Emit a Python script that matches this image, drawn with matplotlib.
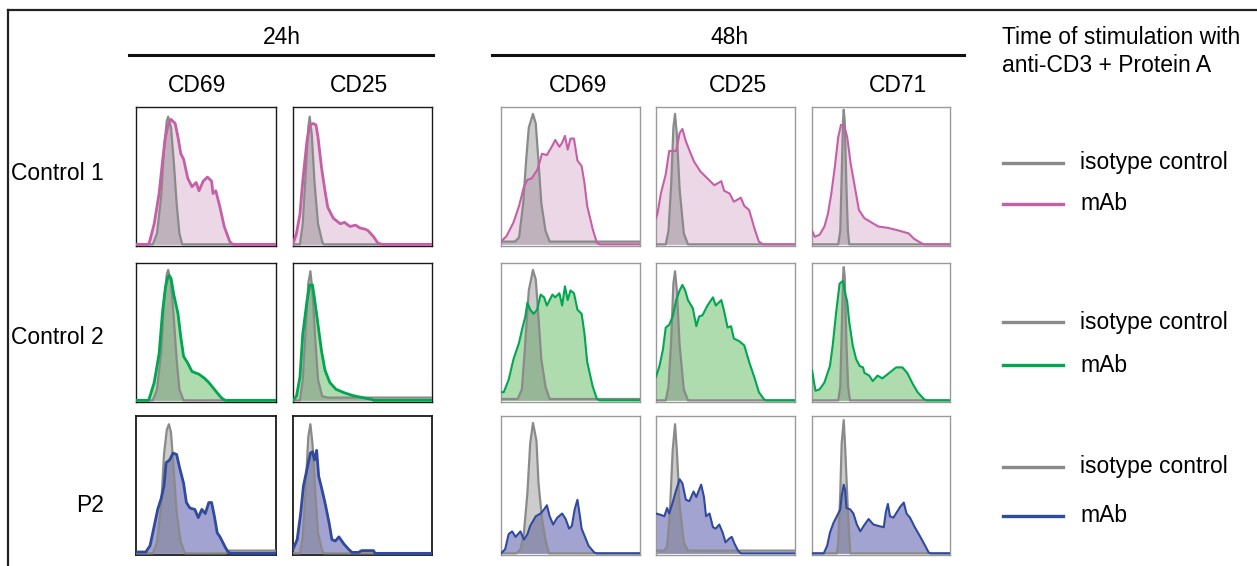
import matplotlib
matplotlib.use("Agg")
import matplotlib.pyplot as plt
from matplotlib.lines import Line2D

plt.rcParams['font.family'] = ['Liberation Sans', 'DejaVu Sans']

# points (x, y), x and y as fraction of the panel box
# --- Control 1 ---
iso_c1_24_cd69 = [(0, 0), (0.12, 0), (0.15, 0.08), (0.18, 0.35), (0.2, 0.7), (0.22, 0.9), (0.23, 0.93), (0.25, 0.85),
                  (0.27, 0.6), (0.29, 0.3), (0.31, 0.08), (0.33, 0), (1, 0)]
mab_c1_24_cd69 = [(0, 0), (0.09, 0), (0.1, 0.03), (0.13, 0.15), (0.165, 0.37), (0.19, 0.61), (0.21, 0.78), (0.23, 0.87),
                  (0.25, 0.91), (0.28, 0.88), (0.3, 0.78), (0.32, 0.66), (0.34, 0.62), (0.37, 0.48), (0.4, 0.42),
                  (0.43, 0.45), (0.45, 0.39), (0.48, 0.46), (0.51, 0.49), (0.54, 0.46), (0.55, 0.37), (0.57, 0.39),
                  (0.6, 0.27), (0.63, 0.13), (0.67, 0.02), (0.69, 0), (1, 0)]
iso_c1_24_cd25 = [(0, 0), (0.05, 0), (0.07, 0.15), (0.09, 0.5), (0.11, 0.85), (0.12, 0.93), (0.135, 0.8), (0.155, 0.45),
                  (0.18, 0.15), (0.21, 0.02), (0.22, 0), (1, 0)]
mab_c1_24_cd25 = [(0, 0), (0.025, 0.08), (0.05, 0.22), (0.07, 0.46), (0.1, 0.75), (0.12, 0.87), (0.145, 0.88),
                  (0.165, 0.87), (0.18, 0.78), (0.205, 0.56), (0.23, 0.39), (0.25, 0.27), (0.29, 0.19), (0.34, 0.15),
                  (0.37, 0.16), (0.41, 0.13), (0.45, 0.14), (0.48, 0.12), (0.52, 0.11), (0.54, 0.10), (0.58, 0.055),
                  (0.61, 0.01), (0.64, 0), (1, 0)]
iso_c1_48_cd69 = [(0, 0.02), (0.10, 0.02), (0.13, 0.05), (0.16, 0.3), (0.18, 0.6), (0.2, 0.85), (0.23, 0.95),
                  (0.25, 0.88), (0.27, 0.6), (0.29, 0.3), (0.32, 0.1), (0.35, 0.02), (1, 0.02)]
mab_c1_48_cd69 = [(0, 0.02), (0.04, 0.06), (0.09, 0.16), (0.13, 0.28), (0.165, 0.42), (0.19, 0.47), (0.22, 0.48),
                  (0.26, 0.54), (0.27, 0.57), (0.295, 0.66), (0.33, 0.65), (0.37, 0.72), (0.39, 0.76), (0.42, 0.71),
                  (0.44, 0.74), (0.46, 0.79), (0.48, 0.69), (0.5, 0.77), (0.525, 0.77), (0.55, 0.61), (0.58, 0.57),
                  (0.6, 0.45), (0.62, 0.28), (0.66, 0.11), (0.69, 0.01), (0.71, 0), (1, 0)]
iso_c1_48_cd25 = [(0, 0), (0.07, 0), (0.09, 0.1), (0.11, 0.45), (0.125, 0.85), (0.137, 0.95), (0.15, 0.8), (0.17, 0.4),
                  (0.2, 0.08), (0.23, 0), (1, 0)]
mab_c1_48_cd25 = [(0, 0.19), (0.01, 0.22), (0.035, 0.37), (0.07, 0.51), (0.095, 0.68), (0.145, 0.68), (0.17, 0.81),
                  (0.19, 0.84), (0.215, 0.75), (0.25, 0.66), (0.275, 0.6), (0.32, 0.53), (0.37, 0.48), (0.42, 0.43),
                  (0.47, 0.46), (0.49, 0.39), (0.53, 0.37), (0.56, 0.31), (0.61, 0.34), (0.635, 0.28), (0.67, 0.25),
                  (0.71, 0.11), (0.74, 0.02), (0.77, 0), (1, 0)]
iso_c1_48_cd71 = [(0, 0), (0.19, 0), (0.205, 0.1), (0.215, 0.5), (0.225, 0.9), (0.23, 0.98), (0.237, 0.9), (0.25, 0.4),
                  (0.26, 0.1), (0.27, 0), (1, 0)]
mab_c1_48_cd71 = [(0, 0.1), (0.02, 0.055), (0.055, 0.07), (0.09, 0.13), (0.115, 0.22), (0.14, 0.37), (0.165, 0.56),
                  (0.19, 0.78), (0.21, 0.87), (0.235, 0.86), (0.255, 0.78), (0.28, 0.59), (0.31, 0.42), (0.34, 0.25),
                  (0.38, 0.19), (0.43, 0.16), (0.48, 0.13), (0.55, 0.12), (0.63, 0.10), (0.7, 0.08), (0.74, 0.04),
                  (0.79, 0.01), (0.81, 0), (1, 0)]

# --- Control 2 ---
iso_c2_24_cd69 = [(0, 0), (0.12, 0), (0.15, 0.08), (0.18, 0.35), (0.2, 0.72), (0.22, 0.92), (0.23, 0.95), (0.25, 0.86),
                  (0.27, 0.6), (0.29, 0.3), (0.31, 0.08), (0.34, 0), (1, 0)]
mab_c2_24_cd69 = [(0, 0), (0.09, 0), (0.1, 0.03), (0.13, 0.13), (0.165, 0.34), (0.19, 0.65), (0.21, 0.82),
                  (0.225, 0.89), (0.235, 0.91), (0.25, 0.89), (0.27, 0.77), (0.3, 0.63), (0.32, 0.46), (0.34, 0.32),
                  (0.37, 0.27), (0.4, 0.21), (0.45, 0.19), (0.49, 0.16), (0.52, 0.13), (0.56, 0.08), (0.6, 0.03),
                  (0.62, 0.01), (0.64, 0), (1, 0)]
iso_c2_24_cd25 = [(0, 0), (0.05, 0), (0.07, 0.15), (0.09, 0.5), (0.11, 0.85), (0.125, 0.94), (0.14, 0.8), (0.16, 0.45),
                  (0.18, 0.15), (0.21, 0.03), (0.25, 0.02), (1, 0.02)]
mab_c2_24_cd25 = [(0, 0), (0.025, 0.03), (0.05, 0.17), (0.07, 0.48), (0.1, 0.72), (0.12, 0.84), (0.14, 0.84),
                  (0.155, 0.74), (0.18, 0.55), (0.205, 0.36), (0.23, 0.22), (0.265, 0.13), (0.31, 0.08), (0.37, 0.055),
                  (0.43, 0.035), (0.5, 0.02), (0.565, 0.007), (0.58, 0), (1, 0)]
iso_c2_48_cd69 = [(0, 0.01), (0.12, 0.01), (0.15, 0.08), (0.17, 0.35), (0.2, 0.8), (0.23, 0.95), (0.25, 0.88),
                  (0.27, 0.6), (0.29, 0.3), (0.32, 0.1), (0.35, 0.01), (1, 0.01)]
mab_c2_48_cd69 = [(0, 0.06), (0.02, 0.06), (0.055, 0.15), (0.09, 0.3), (0.13, 0.42), (0.15, 0.51), (0.175, 0.61),
                  (0.19, 0.71), (0.21, 0.66), (0.235, 0.63), (0.26, 0.66), (0.285, 0.77), (0.31, 0.75), (0.33, 0.69),
                  (0.37, 0.77), (0.39, 0.75), (0.42, 0.78), (0.44, 0.69), (0.46, 0.83), (0.48, 0.73), (0.5, 0.8),
                  (0.525, 0.78), (0.55, 0.66), (0.58, 0.63), (0.6, 0.49), (0.62, 0.28), (0.66, 0.1), (0.69, 0.01),
                  (0.71, 0), (1, 0)]
iso_c2_48_cd25 = [(0, 0), (0.07, 0), (0.09, 0.1), (0.11, 0.45), (0.125, 0.85), (0.137, 0.94), (0.15, 0.8), (0.17, 0.4),
                  (0.2, 0.08), (0.23, 0), (1, 0)]
mab_c2_48_cd25 = [(0, 0.17), (0.025, 0.25), (0.05, 0.37), (0.07, 0.53), (0.095, 0.55), (0.12, 0.61), (0.145, 0.73),
                  (0.17, 0.8), (0.19, 0.84), (0.21, 0.8), (0.23, 0.73), (0.265, 0.67), (0.29, 0.54), (0.31, 0.61),
                  (0.335, 0.62), (0.37, 0.69), (0.41, 0.75), (0.43, 0.69), (0.47, 0.73), (0.49, 0.65), (0.515, 0.53),
                  (0.54, 0.54), (0.56, 0.45), (0.6, 0.43), (0.635, 0.4), (0.67, 0.28), (0.71, 0.16), (0.74, 0.06),
                  (0.775, 0.01), (0.79, 0), (1, 0)]
iso_c2_48_cd71 = [(0, 0), (0.19, 0), (0.205, 0.1), (0.215, 0.5), (0.225, 0.9), (0.23, 0.97), (0.237, 0.9), (0.25, 0.4),
                  (0.262, 0.1), (0.275, 0), (1, 0)]
mab_c2_48_cd71 = [(0, 0.22), (0.025, 0.07), (0.055, 0.08), (0.09, 0.13), (0.13, 0.25), (0.15, 0.4), (0.175, 0.64),
                  (0.2, 0.85), (0.225, 0.87), (0.24, 0.78), (0.255, 0.72), (0.27, 0.57), (0.295, 0.4), (0.32, 0.3),
                  (0.345, 0.25), (0.37, 0.24), (0.38, 0.2), (0.415, 0.18), (0.44, 0.14), (0.475, 0.18), (0.51, 0.16),
                  (0.56, 0.2), (0.61, 0.24), (0.655, 0.24), (0.69, 0.2), (0.73, 0.12), (0.765, 0.06), (0.81, 0.01),
                  (0.83, 0), (1, 0)]

# --- P2 ---
iso_p2_24_cd69 = [(0, 0), (0.12, 0), (0.15, 0.08), (0.18, 0.35), (0.2, 0.72), (0.22, 0.9), (0.235, 0.94), (0.25, 0.88),
                  (0.27, 0.6), (0.29, 0.3), (0.32, 0.08), (0.35, 0), (0.64, 0), (0.66, 0.02), (1, 0.02)]
mab_p2_24_cd69 = [(0, 0.01), (0.07, 0.01), (0.1, 0.055), (0.12, 0.15), (0.155, 0.32), (0.18, 0.4), (0.2, 0.49),
                  (0.215, 0.66), (0.24, 0.68), (0.265, 0.73), (0.29, 0.72), (0.31, 0.63), (0.34, 0.51), (0.36, 0.37),
                  (0.385, 0.33), (0.42, 0.32), (0.445, 0.26), (0.47, 0.32), (0.495, 0.29), (0.52, 0.37), (0.54, 0.37),
                  (0.56, 0.27), (0.58, 0.15), (0.6, 0.12), (0.64, 0.04), (0.66, 0.007), (0.68, 0), (1, 0)]
iso_p2_24_cd25 = [(0, 0), (0.05, 0), (0.07, 0.12), (0.09, 0.45), (0.11, 0.85), (0.125, 0.94), (0.14, 0.8), (0.16, 0.45),
                  (0.18, 0.15), (0.21, 0.02), (0.22, 0), (1, 0)]
mab_p2_24_cd25 = [(0, 0.03), (0.03, 0.1), (0.055, 0.29), (0.075, 0.49), (0.1, 0.61), (0.125, 0.73), (0.14, 0.74),
                  (0.155, 0.68), (0.17, 0.75), (0.185, 0.56), (0.2, 0.5), (0.23, 0.37), (0.26, 0.22), (0.28, 0.1),
                  (0.305, 0.09), (0.33, 0.12), (0.365, 0.07), (0.4, 0.03), (0.425, 0.007), (0.47, 0.007),
                  (0.495, 0.02), (0.58, 0.02), (0.59, 0), (1, 0)]
iso_p2_48_cd69 = [(0, 0), (0.11, 0), (0.14, 0.03), (0.165, 0.15), (0.19, 0.44), (0.21, 0.8), (0.23, 0.95),
                  (0.255, 0.82), (0.27, 0.51), (0.295, 0.25), (0.32, 0.1), (0.345, 0), (1, 0)]
mab_p2_48_cd69 = [(0, 0), (0.03, 0.03), (0.055, 0.14), (0.08, 0.16), (0.105, 0.12), (0.14, 0.16), (0.165, 0.1),
                  (0.19, 0.14), (0.21, 0.2), (0.25, 0.27), (0.285, 0.29), (0.31, 0.32), (0.33, 0.35), (0.35, 0.27),
                  (0.375, 0.21), (0.405, 0.26), (0.44, 0.29), (0.465, 0.25), (0.49, 0.18), (0.51, 0.2), (0.53, 0.32),
                  (0.55, 0.39), (0.565, 0.29), (0.58, 0.18), (0.6, 0.13), (0.63, 0.055), (0.67, 0.007), (0.69, 0),
                  (1, 0)]
iso_p2_48_cd25 = [(0, 0.02), (0.06, 0.02), (0.08, 0.05), (0.1, 0.3), (0.12, 0.75), (0.137, 0.94), (0.15, 0.75),
                  (0.17, 0.35), (0.2, 0.08), (0.23, 0.02), (1, 0.02)]
mab_p2_48_cd25 = [(0, 0.29), (0.035, 0.28), (0.06, 0.27), (0.08, 0.33), (0.095, 0.29), (0.12, 0.37), (0.145, 0.46),
                  (0.17, 0.54), (0.19, 0.51), (0.215, 0.39), (0.24, 0.38), (0.27, 0.45), (0.29, 0.41), (0.305, 0.45),
                  (0.325, 0.5), (0.345, 0.41), (0.36, 0.27), (0.385, 0.29), (0.41, 0.19), (0.43, 0.18), (0.455, 0.21),
                  (0.48, 0.15), (0.5, 0.08), (0.53, 0.11), (0.545, 0.12), (0.565, 0.07), (0.59, 0.02), (0.61, 0),
                  (1, 0)]
iso_p2_48_cd71 = [(0, 0), (0.18, 0), (0.19, 0.08), (0.205, 0.44), (0.215, 0.8), (0.23, 0.97), (0.24, 0.78),
                  (0.26, 0.31), (0.277, 0), (1, 0)]
mab_p2_48_cd71 = [(0, 0), (0.085, 0), (0.11, 0.055), (0.13, 0.15), (0.155, 0.22), (0.18, 0.27), (0.205, 0.32),
                  (0.215, 0.42), (0.23, 0.5), (0.24, 0.46), (0.25, 0.33), (0.277, 0.32), (0.3, 0.29), (0.325, 0.21),
                  (0.35, 0.16), (0.375, 0.2), (0.41, 0.25), (0.445, 0.21), (0.48, 0.2), (0.52, 0.19), (0.535, 0.3),
                  (0.55, 0.36), (0.565, 0.27), (0.59, 0.26), (0.615, 0.3), (0.64, 0.34), (0.665, 0.37), (0.685, 0.29),
                  (0.71, 0.26), (0.745, 0.19), (0.785, 0.12), (0.82, 0.055), (0.845, 0.007), (0.86, 0), (1, 0)]

row_labels = ["Control 1", "Control 2", "P2"]
col_labels = ["CD69", "CD25", "CD69", "CD25", "CD71"]
time_labels = ["24h", "48h"]
legend_labels = ["isotype control", "mAb"]

panels = [
    [(iso_c1_24_cd69, mab_c1_24_cd69), (iso_c1_24_cd25, mab_c1_24_cd25), (iso_c1_48_cd69, mab_c1_48_cd69),
     (iso_c1_48_cd25, mab_c1_48_cd25), (iso_c1_48_cd71, mab_c1_48_cd71)],
    [(iso_c2_24_cd69, mab_c2_24_cd69), (iso_c2_24_cd25, mab_c2_24_cd25), (iso_c2_48_cd69, mab_c2_48_cd69),
     (iso_c2_48_cd25, mab_c2_48_cd25), (iso_c2_48_cd71, mab_c2_48_cd71)],
    [(iso_p2_24_cd69, mab_p2_24_cd69), (iso_p2_24_cd25, mab_p2_24_cd25), (iso_p2_48_cd69, mab_p2_48_cd69),
     (iso_p2_48_cd25, mab_p2_48_cd25), (iso_p2_48_cd71, mab_p2_48_cd71)],
]

line_cols = ["#c55fa6", "#00a650", "#2f4a9e"]
fill_cols = ["#ecd7e6", "#aedcae", "#a3a3d2"]
iso_line = "#8a8a8a"

W, H = 1257, 566
fig = plt.figure(figsize=(W / 100, H / 100), dpi=100)

def fx(x):
    return x / W

def fy(y):
    return 1 - y / H

# panel boxes in pixels
col_x = [(136, 276), (293, 432), (501, 640), (656, 795), (812, 950)]
row_y = [(107, 246), (263, 402), (416, 555)]

for r in range(3):
    for c in range(5):
        x0, x1 = col_x[c]
        y0, y1 = row_y[r]
        ax = fig.add_axes([fx(x0), fy(y1), (x1 - x0) / W, (y1 - y0) / H])
        iso, mab = panels[r][c]
        ix, iy = zip(*iso)
        mx, my = zip(*mab)
        ax.fill_between(mx, my, 0, color=fill_cols[r], lw=0, zorder=1)
        ax.fill_between(ix, iy, 0, color="#6e6e6e", alpha=0.35, lw=0, zorder=2)
        ax.plot(ix, iy, color=iso_line, lw=1.6, zorder=3)
        ax.plot(mx, my, color=line_cols[r], lw=2.0 if c < 2 else 1.5, zorder=4)
        ax.set_xlim(0, 1)
        ax.set_ylim(-0.012, 1.0)
        ax.set_xticks([])
        ax.set_yticks([])
        for s in ax.spines.values():
            if c < 2:
                s.set_color("#1a1a1a")
                s.set_linewidth(1.3 if r == 2 else 1.0)
            else:
                s.set_color("#9a9a9a")
                s.set_linewidth(1.0)

fs = 16.5
# time headers and bars
fig.text(fx(282), fy(38), time_labels[0], ha="center", va="center", fontsize=fs)
fig.text(fx(730), fy(38), time_labels[1], ha="center", va="center", fontsize=fs)
fig.add_artist(Line2D([fx(129), fx(433)], [fy(55), fy(55)], color="#111111", lw=2.2))
fig.add_artist(Line2D([fx(492), fx(964)], [fy(55), fy(55)], color="#111111", lw=2.2))

col_cx = [197, 359, 578, 738, 898]
for c in range(5):
    fig.text(fx(col_cx[c]), fy(85), col_labels[c], ha="center", va="center", fontsize=fs)

row_cy = [173, 338, 505]
for r in range(3):
    fig.text(fx(104), fy(row_cy[r]), row_labels[r], ha="right", va="center", fontsize=fs)

fig.text(fx(1002), fy(37), "Time of stimulation with", ha="left", va="center", fontsize=fs)
fig.text(fx(1002), fy(65), "anti-CD3 + Protein A", ha="left", va="center", fontsize=fs)

leg_y = [(163, 204), (322, 365), (467, 516)]
for r in range(3):
    yi, ym = leg_y[r]
    fig.add_artist(Line2D([fx(1003), fx(1063)], [fy(yi), fy(yi)], color=iso_line, lw=2.4))
    fig.add_artist(Line2D([fx(1003), fx(1063)], [fy(ym), fy(ym)], color=line_cols[r], lw=2.4))
    fig.text(fx(1080), fy(yi), legend_labels[0], ha="left", va="center", fontsize=fs)
    fig.text(fx(1080), fy(ym), legend_labels[1], ha="left", va="center", fontsize=fs)

# outer frame (top and left edges only)
fig.add_artist(Line2D([fx(8), 1], [fy(10), fy(10)], color="#222222", lw=1.6))
fig.add_artist(Line2D([fx(8), fx(8)], [fy(10), 0], color="#222222", lw=1.6))

fig.savefig("out.png", dpi=100)
